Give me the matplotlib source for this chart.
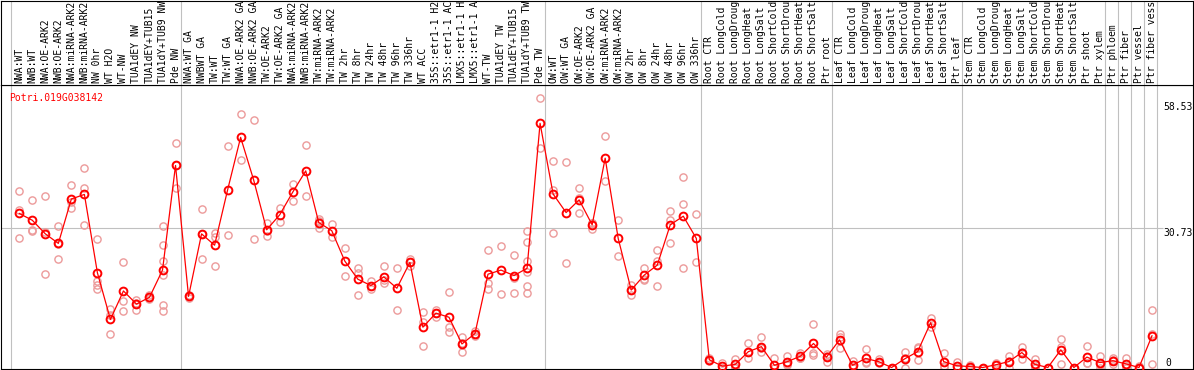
import numpy as np
import matplotlib
matplotlib.use('Agg')
import matplotlib.pyplot as plt
from matplotlib.transforms import blended_transform_factory

plt.rcParams['font.family'] = ['DejaVu Sans Mono']

gene = 'Potri.019G038142'

labels = ['NWA:WT', 'NWB:WT', 'NWA:OE-ARK2', 'NWB:OE-ARK2', 'NWA:miRNA-ARK2', 'NWB:miRNA-ARK2',
          'NW 0hr', 'WT H2O', 'WT-NW', 'TUA1dEY NW', 'TUA1dEY+TUB15', 'TUA1dY+TUB9 NW', 'Pde NW',
          'NWA:WT GA', 'NWBWT GA', 'TW:WT', 'TW:WT GA', 'NWA:OE-ARK2 GA', 'NWB:OE-ARK2 GA',
          'TW:OE-ARK2', 'TW:OE-ARK2 GA', 'NWA:miRNA-ARK2', 'NWB:miRNA-ARK2', 'TW:miRNA-ARK2',
          'TW:miRNA-ARK2', 'TW 2hr', 'TW 8hr', 'TW 24hr', 'TW 48hr', 'TW 96hr', 'TW 336hr',
          'WT ACC', '35S::etr1-1 H2', '35S::etr1-1 AC', 'LMX5::etr1-1 H', 'LMX5::etr1-1 A',
          'WT-TW', 'TUA1dEY TW', 'TUA1dEY+TUB15', 'TUA1dY+TUB9 TW', 'Pde TW',
          'OW:WT', 'OW:WT GA', 'OW:OE-ARK2', 'OW:OE-ARK2 GA', 'OW:miRNA-ARK2', 'OW:miRNA-ARK2',
          'OW 2hr', 'OW 8hr', 'OW 24hr', 'OW 48hr', 'OW 96hr', 'OW 336hr',
          'Root CTR', 'Root LongCold', 'Root LongDroug', 'Root LongHeat', 'Root LongSalt',
          'Root ShortCold', 'Root ShortDrou', 'Root ShortHeat', 'Root ShortSalt', 'Ptr root',
          'Leaf CTR', 'Leaf LongCold', 'Leaf LongDroug', 'Leaf LongHeat', 'Leaf LongSalt',
          'Leaf ShortCold', 'Leaf ShortDrou', 'Leaf ShortHeat', 'Leaf ShortSalt', 'Ptr leaf',
          'Stem CTR', 'Stem LongCold', 'Stem LongDroug', 'Stem LongHeat', 'Stem LongSalt',
          'Stem ShortCold', 'Stem ShortDrou', 'Stem ShortHeat', 'Stem ShortSalt', 'Ptr shoot',
          'Ptr xylem', 'Ptr phloem', 'Ptr fiber', 'Ptr vessel', 'Ptr fiber vess']

means = [34.0, 32.5, 29.5, 27.4, 37.2, 38.2, 20.9, 10.6, 16.9, 14.0, 15.5, 21.5, 44.6,
         15.7, 29.5, 27.0, 39.2, 50.8, 41.4, 30.4, 33.7, 38.7, 43.4, 32.0, 30.2, 23.5, 19.5,
         18.1, 20.0, 17.5, 23.2, 8.9, 12.0, 11.1, 5.2, 7.5, 20.6, 21.5, 20.3, 21.9, 53.9,
         38.3, 34.2, 37.0, 31.5, 46.2, 28.5, 17.1, 20.4, 22.6, 31.5, 33.4, 28.5,
         1.7, 0.3, 0.7, 3.5, 4.6, 0.5, 1.3, 2.5, 5.3, 2.3,
         6.1, 0.5, 2.0, 1.3, 0.0, 1.9, 3.5, 9.9, 1.3, 0.4,
         0.2, 0.0, 0.6, 1.3, 3.3, 0.7, 0.0, 3.9, 0.0, 2.3,
         1.1, 1.5, 0.8, 0.0, 7.0]

reps = [[38.9, 34.8, 28.5], [37.0, 30.1, 30.4], [37.9, 30.0, 20.6], [31.2, 23.9, 27.2],
        [40.2, 36.5, 35.1], [44.0, 39.6, 31.4], [28.3, 19.2, 18.2, 17.3], [13.0, 11.7, 7.3],
        [23.2, 14.7, 12.5], [14.9, 12.8, 14.2], [15.3, 16.0, 15.2],
        [31.2, 27.0, 23.5, 20.4, 13.8, 12.5], [49.5, 39.6, 44.6],
        [16.0, 15.7, 15.4], [35.0, 23.9, 29.5], [29.8, 28.7, 22.4], [48.9, 29.2], [56.0, 45.7],
        [54.6, 28.3], [32.0, 29.0, 30.1], [35.1, 32.1], [40.5, 36.8], [49.1, 37.8],
        [32.8, 30.7, 32.4], [31.7, 28.7], [26.4, 20.2], [21.9, 20.9, 16.0], [19.1, 17.3, 18.0],
        [22.4, 18.6, 19.3], [21.9, 12.8], [24.0, 22.5, 23.2], [12.2, 10.1, 4.7],
        [12.7, 11.2, 12.0], [16.7, 9.0, 7.9], [6.7, 3.4, 5.5], [8.1, 7.0, 7.5],
        [25.9, 18.6, 17.3], [26.8, 16.2], [24.8, 16.4, 19.8],
        [30.1, 27.6, 23.5, 21.1, 18.0, 16.5], [59.4, 48.4],
        [45.6, 39.2, 29.8], [45.4, 23.1], [39.6, 34.0, 37.4], [32.0, 30.6, 31.9], [51.1, 41.2],
        [32.6, 24.6], [18.2, 16.0, 17.1], [21.9, 19.5, 19.3], [25.9, 23.5, 18.0],
        [34.5, 32.6, 27.4], [42.1, 36.0, 21.9], [33.8, 23.2],
        [2.2, 1.4, 1.7], [0.9, 0.0, 0.0], [1.9, 0.0, 0.2], [5.5, 2.2, 3.5], [6.7, 3.5, 4.3],
        [2.2, 0.0, 0.0], [2.5, 0.8, 0.6], [3.3, 2.2, 2.0], [9.5, 3.3, 2.8], [3.0, 1.3, 2.6],
        [6.8, 4.2, 7.3], [1.4, 0.0, 0.1], [4.0, 0.9, 1.2], [1.8, 0.9], [0.0, 0.0],
        [3.5, 0.0, 2.2], [4.2, 1.7, 4.6], [10.9, 9.0], [3.3, 0.2, 0.4], [1.3, 0.0, 0.0],
        [0.6, 0.0, 0.0], [0.0, 0.0], [1.1, 0.0, 0.6], [2.5, 0.0, 1.4], [4.6, 1.8, 3.5],
        [1.9, 0.0, 0.2], [0.0, 0.0], [6.2, 0.8, 4.6], [0.0, 0.0], [4.7, 1.1, 1.0],
        [2.6, 0.0, 0.6], [2.0, 0.8, 1.7], [2.0, 0.0, 0.3], [0.4, 0.0], [12.8, 0.8, 7.3]]

group_starts = [0, 13, 41, 53, 63, 73, 84, 85, 86, 87, 88]
ytick_vals = [58.53, 30.73]

x = np.arange(len(labels))

fig = plt.figure(figsize=(11.94, 3.70), dpi=100)
ax = fig.add_axes([1 / 1194, 1 / 370, 1192 / 1194, 284 / 370])
axl = fig.add_axes([1 / 1194, 285 / 370, 1192 / 1194, 84.5 / 370], sharex=ax)

ax.set_xlim(-1.405, 90.15)
ax.set_ylim(-0.33, 62.36)
axl.set_ylim(0, 1)

grid_c = '#c0c0c0'
for a in (ax, axl):
    a.set_xticks([])
    a.set_yticks([])
    for s in a.spines.values():
        s.set_color('black')
        s.set_linewidth(0.8)
    for g in group_starts:
        a.axvline(g - 0.615, color=grid_c, lw=0.8, zorder=0)

ax.hlines(ytick_vals[1], -1.405, 87.85, color=grid_c, lw=0.8, zorder=0)

# replicates
for i, r in enumerate(reps):
    ax.plot([i] * len(r), r, 'o', ms=5.2, mfc='none', mec='#ec9a9a', mew=1.0, zorder=2)

ax.plot(x, means, '-', color='red', lw=0.9, zorder=3)
ax.plot(x, means, 'o', ms=5.6, mfc='none', mec='red', mew=1.4, zorder=4)

ax.text(0.0067, 0.972, gene, transform=ax.transAxes, color='red', fontsize=7, va='top', ha='left')

for v in ytick_vals:
    ax.text(87.84, v, str(v), fontsize=7, va='top', ha='left')
ax.text(88.05, 0, '0', fontsize=7, va='bottom', ha='left')

trans = blended_transform_factory(axl.transData, axl.transAxes)
for i, lab in enumerate(labels):
    axl.text(i, 0.025, lab, transform=trans, rotation=90, fontsize=7, ha='center', va='bottom')

fig.savefig('out.png', dpi=100)
